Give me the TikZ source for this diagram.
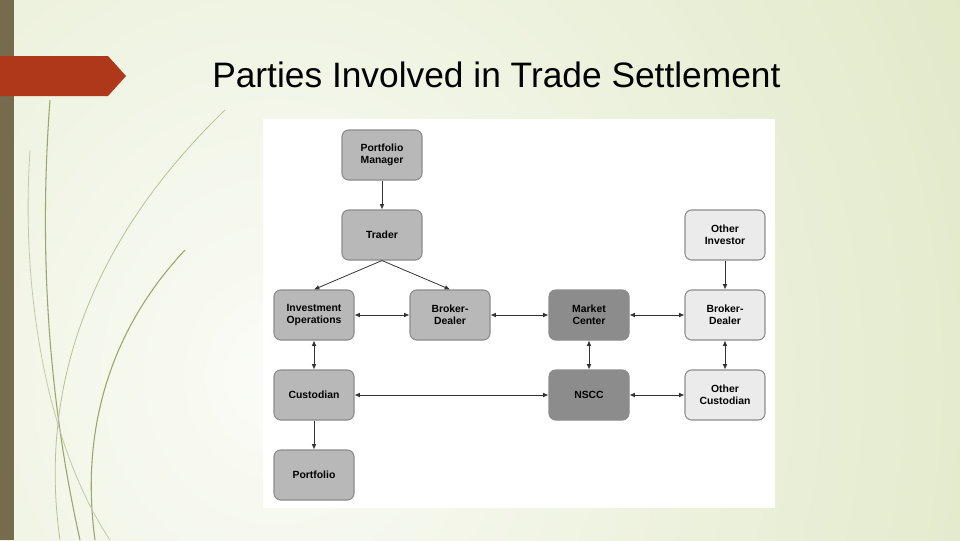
\documentclass[tikz,border=0pt]{standalone}
\usepackage{fontspec}
\setmainfont{Liberation Sans}
\usetikzlibrary{arrows.meta}
\definecolor{bgc}{HTML}{E1E9C8}
\definecolor{barc}{HTML}{776B4E}
\definecolor{redc}{HTML}{B0381A}
\definecolor{lnc}{HTML}{9AA66A}
\begin{document}
\begin{tikzpicture}[x=0.75pt,y=-0.75pt,
  box/.style={draw=black!45,line width=0.8pt,rounded corners=5pt,minimum width=60pt,minimum height=37.5pt,align=center,font=\bfseries\fontsize{7.8}{9}\selectfont,inner sep=1pt},
  mid/.style={box,fill=black!28},
  dark/.style={box,fill=black!45},
  light/.style={box,fill=black!8},
  ar/.style={-{Latex[length=4pt,width=3.5pt]},line width=0.6pt,black!80},
  dar/.style={{Latex[length=4pt,width=3.5pt]}-{Latex[length=4pt,width=3.5pt]},line width=0.6pt,black!80}]
\useasboundingbox (0,0) rectangle (960,540);
\shade[inner color=white!85!bgc,outer color=bgc] (-500,-500) rectangle (1050,1250);
\fill[barc] (0,0) rectangle (14,540);
\fill[redc] (0,56) -- (108,56) -- (126,76) -- (108,96) -- (0,96) -- cycle;
\draw[lnc,line width=0.8pt] (50,100) .. controls (35,300) and (60,450) .. (80,540);
\draw[lnc!70,line width=0.6pt] (225,110) .. controls (80,250) and (40,400) .. (60,540);
\draw[lnc,line width=0.8pt] (185,250) .. controls (110,330) and (80,430) .. (95,540);
\draw[lnc!60,line width=0.6pt] (30,150) .. controls (20,300) and (50,450) .. (110,540);
\node[font=\fontsize{26.5}{30}\selectfont,anchor=west,inner sep=0pt] (title) at (212,75) {Parties Involved in Trade Settlement};
\fill[white] (263,119) rectangle (775,508);
\node[mid] (pm) at (382,155) {Portfolio\\Manager};
\node[mid] (tr) at (382,235) {Trader};
\node[mid] (io) at (314,315) {Investment\\Operations};
\node[mid] (bd) at (450,315) {Broker-\\Dealer};
\node[dark] (mc) at (589,315) {Market\\Center};
\node[light] (obd) at (725,315) {Broker-\\Dealer};
\node[light] (oi) at (725,235) {Other\\Investor};
\node[mid] (cu) at (314,395) {Custodian};
\node[dark] (ns) at (589,395) {NSCC};
\node[light] (oc) at (725,395) {Other\\Custodian};
\node[mid] (pf) at (314,475) {Portfolio};
\draw[ar] (pm) -- (tr);
\draw[ar] (tr.south) -- (io.north);
\draw[ar] (tr.south) -- (bd.north);
\draw[ar] (oi) -- (obd);
\draw[dar] (io) -- (bd);
\draw[dar] (bd) -- (mc);
\draw[dar] (mc) -- (obd);
\draw[dar] (io) -- (cu);
\draw[dar] (mc) -- (ns);
\draw[dar] (obd) -- (oc);
\draw[dar] (cu) -- (ns);
\draw[dar] (ns) -- (oc);
\draw[ar] (cu) -- (pf);
\end{tikzpicture}
\end{document}
